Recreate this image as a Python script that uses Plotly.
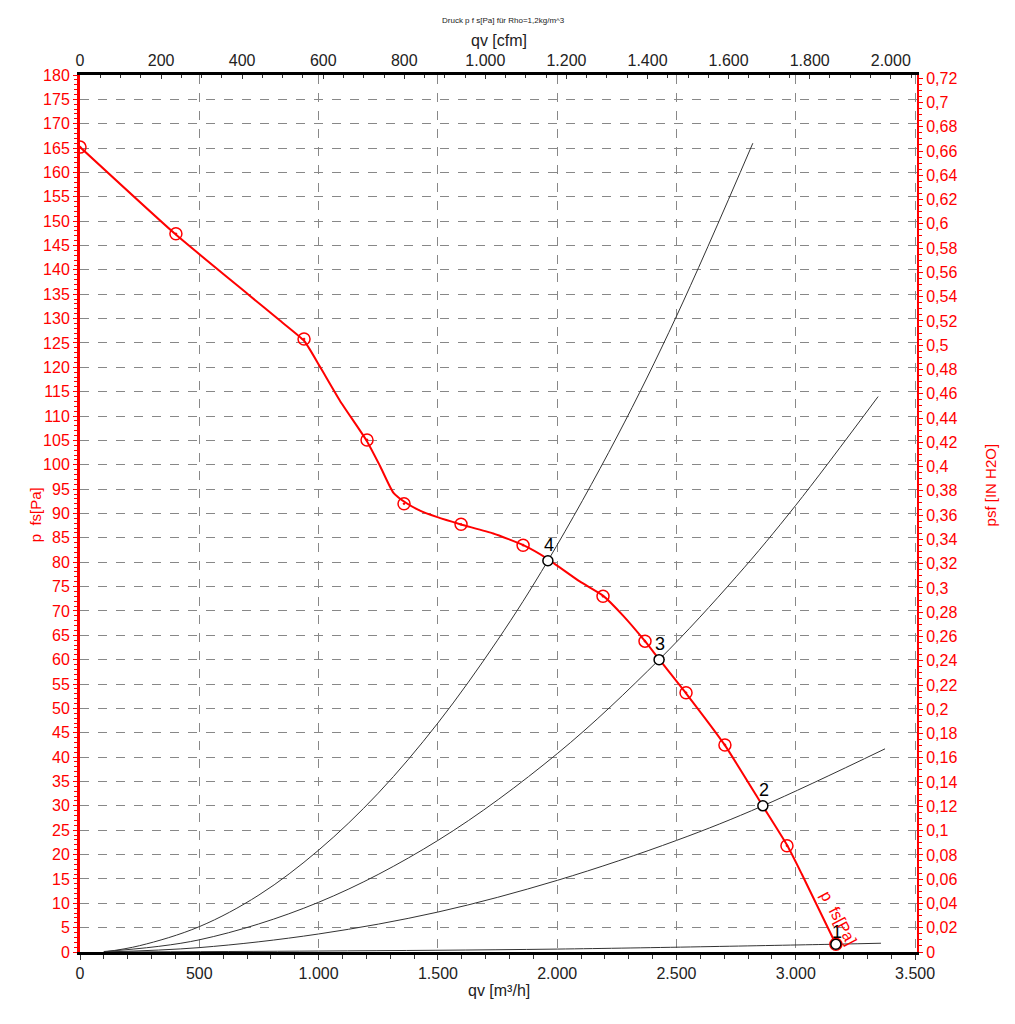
import plotly.graph_objects as go

# Fan curve (red line)
curve_q = [0, 398, 704, 838, 940, 1006, 1090, 1202, 1257, 1313, 1369, 1425, 1495, 1593, 1732,
           1858, 1956, 2096, 2193, 2277, 2368, 2427, 2540, 2702, 2861, 2965, 3025, 3168]
curve_p = [165.2, 147.4, 135.0, 129.6, 125.4, 120.1, 113.1, 104.9, 99.8, 94.3, 92.1, 90.6,
           89.3, 87.8, 85.9, 83.5, 80.8, 76.0, 73.1, 69.0, 63.8, 60.1, 53.1, 42.5, 30.0,
           21.8, 16.0, 1.6]

# Measured points (red circle markers)
meas_q = [0, 402, 939, 1203, 1358, 1597, 1857, 2192, 2368, 2540, 2703, 2963, 3168]
meas_p = [165.2, 147.4, 125.8, 105.1, 92.0, 87.8, 83.5, 73.0, 63.8, 53.2, 42.5, 21.8, 1.6]

# System curves (black)
sys4_q = [100, 250, 500, 750, 1000, 1250, 1500, 1750, 1961, 2250, 2500, 2820]
sys4_p = [0.0, 1.3, 5.2, 11.7, 20.9, 32.6, 47.0, 64.0, 80.3, 105.7, 130.5, 166.0]
sys3_q = [100, 500, 1000, 1500, 2000, 2427, 2750, 3000, 3345]
sys3_p = [0.1, 2.5, 10.2, 22.9, 40.7, 60.0, 77.0, 91.7, 114.0]
sys2_q = [100, 500, 1000, 1500, 2000, 2500, 2862, 3374]
sys2_p = [0.0, 0.9, 3.7, 8.2, 14.7, 22.9, 30.0, 41.7]
sys1_q = [100, 1000, 2000, 3168, 3357]
sys1_p = [0.0, 0.2, 0.6, 1.6, 1.8]

# Operating points
op_q = [3168, 2862, 2427, 1961]
op_p = [1.6, 30.0, 60.0, 80.3]
op_labels = ["1", "2", "3", "4"]
op_yshift = [12, 16, 16, 16]

Q_MAX = 3508
P_MAX = 180
CFM = 1.699011
INH2O = 249.089

FONT = "Liberation Sans, Arial, sans-serif"
RED = "#ff0000"

fig = go.Figure()

for q, p in [(sys4_q, sys4_p), (sys3_q, sys3_p), (sys2_q, sys2_p), (sys1_q, sys1_p)]:
    fig.add_trace(go.Scatter(x=q, y=p, mode="lines", line=dict(color="#333333", width=1, shape="spline"),
                             hoverinfo="skip", showlegend=False))

fig.add_trace(go.Scatter(x=curve_q, y=curve_p, mode="lines",
                         line=dict(color=RED, width=2, shape="spline", smoothing=0.5),
                         showlegend=False))
fig.add_trace(go.Scatter(x=meas_q, y=meas_p, mode="markers",
                         marker=dict(symbol="circle-open-dot", size=12, color=RED, line=dict(width=1.5, color=RED)),
                         showlegend=False))
fig.add_trace(go.Scatter(x=op_q, y=op_p, mode="markers",
                         marker=dict(symbol="circle", size=10, color="white", line=dict(width=1.5, color="black")),
                         showlegend=False))

# invisible trace to anchor secondary axes
fig.add_trace(go.Scatter(x=[0], y=[0], xaxis="x2", yaxis="y2", mode="markers",
                         marker=dict(opacity=0), hoverinfo="skip", showlegend=False))

for q, p, t, ys in zip(op_q, op_p, op_labels, op_yshift):
    fig.add_annotation(x=q, y=p, text=t, showarrow=False, yshift=ys, xshift=1,
                       font=dict(family=FONT, size=18, color="black"))

fig.add_annotation(x=3168, y=7.5, text="p  fs[Pa]", showarrow=False, textangle=62,
                   xshift=3, yshift=-3, font=dict(family=FONT, size=16, color=RED))

fig.add_annotation(text="Druck p f s[Pa] für Rho=1,2kg/m^3", xref="paper", yref="paper",
                   x=0.506, y=1.0, yshift=55, xanchor="center", yanchor="middle", showarrow=False,
                   font=dict(family=FONT, size=8, color="#222"))
fig.add_annotation(text="qv [cfm]", xref="paper", yref="paper", x=0.5, y=1.0, yshift=35,
                   xanchor="center", yanchor="middle",
                   showarrow=False, font=dict(family=FONT, size=16, color="#222"))
fig.add_annotation(text="qv [m³/h]", xref="paper", yref="paper", x=0.5, y=0.0, yshift=-38,
                   xanchor="center", yanchor="middle",
                   showarrow=False, font=dict(family=FONT, size=16, color="#222"))
fig.add_annotation(text="p  fs[Pa]", xref="paper", yref="paper", x=0.0, xshift=-45, y=0.498,
                   xanchor="center", yanchor="middle",
                   textangle=-90, showarrow=False, font=dict(family=FONT, size=15, color=RED))
fig.add_annotation(text="psf [IN H2O]", xref="paper", yref="paper", x=1.0, xshift=73, y=0.532,
                   xanchor="center", yanchor="middle",
                   textangle=-90, showarrow=False, font=dict(family=FONT, size=15, color=RED))

fig.update_layout(
    width=1015, height=1024,
    margin=dict(l=72, r=106, t=67, b=80, autoexpand=False),
    paper_bgcolor="white", plot_bgcolor="white",
    separators=",.",
    font=dict(family=FONT, size=16, color="#222"),
    xaxis=dict(range=[0, Q_MAX], dtick=500, tick0=0, separatethousands=True, automargin=False,
               showline=True, linecolor="black", linewidth=3,
               ticks="outside", ticklen=5, tickcolor="#333",
               minor=dict(dtick=100, ticks="outside", ticklen=4, tickcolor="#333", showgrid=False),
               showgrid=True, gridcolor="#888888", griddash="dash", gridwidth=1,
               zeroline=False, tickfont=dict(size=16, color="#222")),
    xaxis2=dict(range=[0, Q_MAX / CFM], dtick=200, tick0=0, separatethousands=True, automargin=False,
                overlaying="x", side="top", anchor="y",
                showline=True, linecolor="black", linewidth=3,
                ticks="inside", ticklen=4, tickcolor="#333",
                minor=dict(dtick=50, ticks="inside", ticklen=3, tickcolor="#333", showgrid=False),
                showgrid=False, zeroline=False, tickfont=dict(size=16, color="#222")),
    yaxis=dict(range=[0, P_MAX], dtick=5, tick0=0, automargin=False,
               showline=True, linecolor=RED, linewidth=3,
               ticks="outside", ticklen=4, tickcolor=RED,
               minor=dict(dtick=1, ticks="outside", ticklen=3, tickcolor=RED, showgrid=False),
               showgrid=True, gridcolor="#888888", griddash="dash", gridwidth=1,
               zeroline=False, tickfont=dict(size=16, color=RED)),
    yaxis2=dict(range=[0, P_MAX / INH2O], dtick=0.02, tick0=0, automargin=False,
                overlaying="y", side="right", anchor="x",
                showline=True, linecolor=RED, linewidth=2,
                ticks="outside", ticklen=4, tickcolor=RED,
                minor=dict(dtick=0.005, ticks="outside", ticklen=3, tickcolor=RED, showgrid=False),
                showgrid=False, zeroline=False, tickfont=dict(size=16, color=RED)),
)

fig.write_html("out.html")
